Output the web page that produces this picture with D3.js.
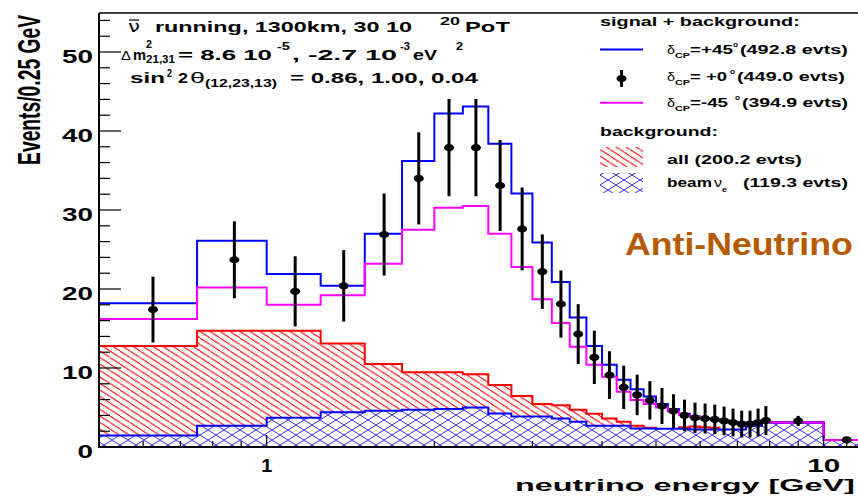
<!DOCTYPE html>
<html><head><meta charset="utf-8">
<script src="https://cdn.jsdelivr.net/npm/d3@7"></script>
<style>html,body{margin:0;padding:0;background:#fff;overflow:hidden}svg{display:block}</style>
</head><body>
<svg id="c" width="858" height="496"></svg>
<script>
// ---- data ----
const binEdges = [0.5,0.75,1.0,1.25,1.5,1.75,2.0,2.25,2.5,2.75,3.0,3.25,3.5,3.75,4.0,4.25,4.5,4.75,5.0,5.25,5.5,5.75,6.0,6.25,6.5,6.75,7.0,7.25,7.5,7.75,8.0,10.0,12.0];
const sigPlus45 = [18.2,26.1,21.9,20.4,27.0,36.2,42.2,43.1,38.4,32.1,25.9,20.9,16.4,12.8,10.4,8.5,7.3,6.4,5.45,4.8,4.2,3.85,3.6,3.55,3.4,3.2,3.1,3.1,3.2,3.4,3.1,0.9];
const sigZero = [17.4,23.7,19.7,20.4,26.9,34.0,37.9,37.9,33.1,27.6,22.2,18.1,14.3,11.35,9.1,7.55,6.6,5.9,5.2,4.55,4.0,3.7,3.6,3.5,3.3,3.1,2.9,2.9,3.1,3.35,3.3,0.9];
const sigZeroErr = [4.17,4.87,4.44,4.52,5.19,5.83,6.16,6.16,5.75,5.25,4.71,4.25,3.78,3.37,3.02,2.75,2.57,2.43,2.28,2.13,2.0,1.92,1.9,1.87,1.82,1.76,1.70,1.70,1.76,1.83,0.64,0.34];
const sigMinus45 = [16.2,20.2,18.0,19.2,23.2,27.5,30.3,30.5,27.0,22.8,18.7,15.7,12.7,10.4,8.9,7.0,5.95,5.45,5.0,4.5,4.05,3.85,3.6,3.55,3.35,3.1,3.0,3.0,3.2,3.3,3.1,0.9];
const bgAll = [12.8,14.7,14.7,13.1,10.5,9.45,9.45,9.2,7.85,6.45,5.45,5.3,4.7,4.2,3.6,3.2,2.7,2.45,2.25,2.25,2.5,2.6,2.5,2.45,2.15,2.15,2.15,2.15,2.8,3.2,3.1,0.9];
const bgBeamNue = [1.45,2.7,3.7,4.4,4.6,4.7,4.8,5.0,4.25,3.85,3.85,3.6,3.2,2.7,2.7,2.7,2.35,2.35,2.3,2.3,2.3,2.2,2.2,2.2,2.2,2.2,2.2,2.7,2.7,3.1,3.1,0.9];
const yMajorTicks = [0,10,20,30,40,50];
const yMinorTicks = [2,4,6,8,12,14,16,18,22,24,26,28,32,34,36,38,42,44,46,48,52,54];
const xMajorTicks = [1,10];
const xMinorTicks = [0.6,0.7,0.8,0.9,2,3,4,5,6,7,8,9,11];
const xTickLabels = ["1","10"];

// ---- layout ----
const svg = d3.select("#c");
const L = 99, B = 447, T = 13;
const x = d3.scaleLog().domain([0.5,12]).range([L, L + 557*Math.log10(24)]);
const y = d3.scaleLinear().domain([0,55]).range([B, B - 55*7.9]);
const R = x(12);
const F = "'Liberation Sans', Arial, Helvetica, sans-serif";

const defs = svg.append("defs");
defs.append("clipPath").attr("id","plot").append("rect")
  .attr("x",L).attr("y",T).attr("width",R-L).attr("height",B-T);
const ph = defs.append("pattern").attr("id","hatchRed").attr("patternUnits","userSpaceOnUse")
  .attr("width",10).attr("height",6.5);
ph.append("path").attr("d","M-2,-1.3 L12,7.8")
  .attr("stroke","#ff0000").attr("stroke-width",1).attr("fill","none");
const pc = defs.append("pattern").attr("id","hatchBlue").attr("patternUnits","userSpaceOnUse")
  .attr("width",16).attr("height",10);
pc.append("path").attr("d","M-2,-1.25 L18,11.25 M-2,11.25 L18,-1.25")
  .attr("stroke","#3a2bd8").attr("stroke-width",1).attr("fill","none");

const pts = vals => binEdges.map((e,i)=>[e, vals[Math.min(i, vals.length-1)]]);
const stepLine = d3.line().curve(d3.curveStepAfter).x(d=>x(d[0])).y(d=>y(d[1]));
const stepArea = d3.area().curve(d3.curveStepAfter).x(d=>x(d[0])).y0(y(0)).y1(d=>y(d[1]));

const g = svg.append("g").attr("clip-path","url(#plot)");
g.append("path").attr("d",stepArea(pts(bgAll))).attr("fill","url(#hatchRed)");
g.append("path").attr("d",stepLine(pts(bgAll))).attr("fill","none").attr("stroke","#ff0000").attr("stroke-width",2);
g.append("path").attr("d",stepArea(pts(bgBeamNue))).attr("fill","#fff");
g.append("path").attr("d",stepArea(pts(bgBeamNue))).attr("fill","url(#hatchBlue)");
g.append("path").attr("d",stepLine(pts(bgBeamNue))).attr("fill","none").attr("stroke","#0000ff").attr("stroke-width",2);
g.append("path").attr("d",stepLine(pts(sigPlus45))).attr("fill","none").attr("stroke","#0000ff").attr("stroke-width",2);
g.append("path").attr("d",stepLine(pts(sigMinus45))).attr("fill","none").attr("stroke","#ff00ff").attr("stroke-width",2);
const mid = sigZero.map((v,i)=>(binEdges[i]+binEdges[i+1])/2);
g.selectAll("line.err").data(sigZero).join("line").attr("class","err")
  .attr("x1",(d,i)=>x(mid[i])).attr("x2",(d,i)=>x(mid[i]))
  .attr("y1",(d,i)=>y(d-sigZeroErr[i])).attr("y2",(d,i)=>y(d+sigZeroErr[i]))
  .attr("stroke","#000").attr("stroke-width",3);
g.selectAll("ellipse.pt").data(sigZero).join("ellipse").attr("class","pt")
  .attr("cx",(d,i)=>x(mid[i])).attr("cy",d=>y(d)).attr("rx",5).attr("ry",3.6).attr("fill","#000");

// axes
const ax = svg.append("g");
ax.append("line").attr("x1",L).attr("x2",858).attr("y1",T).attr("y2",T).attr("stroke","#000").attr("stroke-width",1.5);
ax.append("line").attr("x1",L).attr("x2",L).attr("y1",T).attr("y2",B+1).attr("stroke","#000").attr("stroke-width",2);
ax.append("line").attr("x1",L-1).attr("x2",858).attr("y1",B).attr("y2",B).attr("stroke","#000").attr("stroke-width",2);
yMajorTicks.forEach(v=>ax.append("line").attr("x1",L).attr("x2",L+22).attr("y1",y(v)).attr("y2",y(v)).attr("stroke","#000").attr("stroke-width",1.2));
yMinorTicks.forEach(v=>ax.append("line").attr("x1",L).attr("x2",L+11).attr("y1",y(v)).attr("y2",y(v)).attr("stroke","#000").attr("stroke-width",1.2));
xMajorTicks.forEach(v=>ax.append("line").attr("x1",x(v)).attr("x2",x(v)).attr("y1",B).attr("y2",B-12).attr("stroke","#000").attr("stroke-width",1.2));
xMinorTicks.forEach(v=>ax.append("line").attr("x1",x(v)).attr("x2",x(v)).attr("y1",B).attr("y2",B-6).attr("stroke","#000").attr("stroke-width",1.2));

// text helper: text stretched (by a scale transform) to span x0..x1 at baseline yb
function txt(s, x0, x1, yb, size, opt={}) {
  const t = svg.append("text").attr("font-size",size)
    .attr("font-family",opt.family||F).attr("font-weight",opt.weight||"bold")
    .attr("fill",opt.color||"#000").text(s);
  const w = t.node().getComputedTextLength() || 1;
  t.attr("transform",`translate(${x0},${yb}) scale(${(x1-x0)/w},1)`);
  return t;
}
yMajorTicks.forEach(v=>{
  const s = String(v), w = s.length*15.5;
  txt(s, 93-w, 93, y(v)+11, 19);
});
xTickLabels.forEach((s,i)=>{
  const w = s.length===1 ? 11 : 33, cx = x(xMajorTicks[i]);
  txt(s, cx-w/2, cx+w/2, 471.5, 17.5);
});
// y title (rotated, compressed along its length)
{
  const t = svg.append("text").attr("font-family",F).attr("font-weight","bold").attr("font-size",31)
    .attr("text-anchor","end").text("Events/0.25 GeV");
  const w = t.node().getComputedTextLength() || 1;
  t.attr("transform",`translate(40,15) rotate(-90) scale(${150/w},1)`);
}
txt("neutrino energy [GeV]", 515, 855, 491, 17);

// header
txt("\u03BD", 128, 140, 32, 15, {weight:"normal", family:"'DejaVu Sans', sans-serif"});
svg.append("line").attr("x1",129).attr("x2",139).attr("y1",20).attr("y2",20).attr("stroke","#000").attr("stroke-width",1.2);
txt("running, 1300km, 30 10", 155, 412, 32, 14);
txt("20", 440, 460, 25, 10);
txt("PoT", 465, 510, 32, 14);
txt("\u0394", 121, 131, 60, 12, {weight:"normal"});
txt("m", 133, 146, 60, 14);
txt("2", 146, 152, 48, 10);
txt("21,31", 146, 175, 63, 10);
txt("= 8.6 10", 178, 272, 60, 14);
txt("-5", 277, 290, 50, 10);
txt(", -2.7 10", 292, 397, 60, 14);
txt("-3", 400, 410, 50, 10);
txt("eV", 413, 437, 60, 14);
txt("2", 456, 463, 50, 10);
txt("sin", 130, 165, 83, 14);
txt("2", 167, 172, 77, 10);
txt("2", 178, 188, 83, 14);
txt("\u03B8", 190, 205, 83, 14, {weight:"normal"});
txt("(12,23,13)", 205, 277, 87, 10);
txt("= 0.86, 1.00, 0.04", 290, 478, 83, 14);

// legend
txt("signal + background:", 600, 800, 26, 12);
svg.append("line").attr("x1",600).attr("x2",643).attr("y1",49.5).attr("y2",49.5).attr("stroke","#0000ff").attr("stroke-width",2);
txt("\u03B4", 667, 675, 54, 12, {weight:"normal"});
txt("CP", 675, 690, 58, 8);
txt("=+45", 690, 733, 54, 12);
txt("o", 733, 738, 47, 8);
txt("(492.8 evts)", 740, 848, 54, 12);

svg.append("line").attr("x1",621.5).attr("x2",621.5).attr("y1",70).attr("y2",87).attr("stroke","#000").attr("stroke-width",3);
svg.append("ellipse").attr("cx",621.5).attr("cy",78.5).attr("rx",5).attr("ry",3.6).attr("fill","#000");
txt("\u03B4", 667, 675, 81, 12, {weight:"normal"});
txt("CP", 675, 690, 85, 8);
txt("= +0", 690, 727, 81, 12);
txt("o", 730, 735, 74, 8);
txt("(449.0 evts)", 737, 845, 81, 12);

svg.append("line").attr("x1",600).attr("x2",643).attr("y1",102.7).attr("y2",102.7).attr("stroke","#ff00ff").attr("stroke-width",2);
txt("\u03B4", 667, 675, 107, 12, {weight:"normal"});
txt("CP", 675, 690, 111, 8);
txt("=-45", 690, 728, 107, 12);
txt("o", 735, 740, 100, 8);
txt("(394.9 evts)", 742, 848, 107, 12);

txt("background:", 600, 718, 136, 12);
svg.append("rect").attr("x",600).attr("y",147).attr("width",43).attr("height",20).attr("fill","url(#hatchRed)");
txt("all (200.2 evts)", 667, 802, 164, 12);
svg.append("rect").attr("x",600).attr("y",173).attr("width",43).attr("height",20).attr("fill","url(#hatchBlue)");
txt("beam", 667, 712, 187, 12);
txt("\u03BD", 714, 722, 187, 12, {weight:"normal"});
txt("e", 722, 727, 192, 8);
txt("(119.3 evts)", 743, 848, 187, 12);

txt("Anti-Neutrino", 625, 853, 255, 32, {color:"#b55a00"});
</script>
</body></html>
